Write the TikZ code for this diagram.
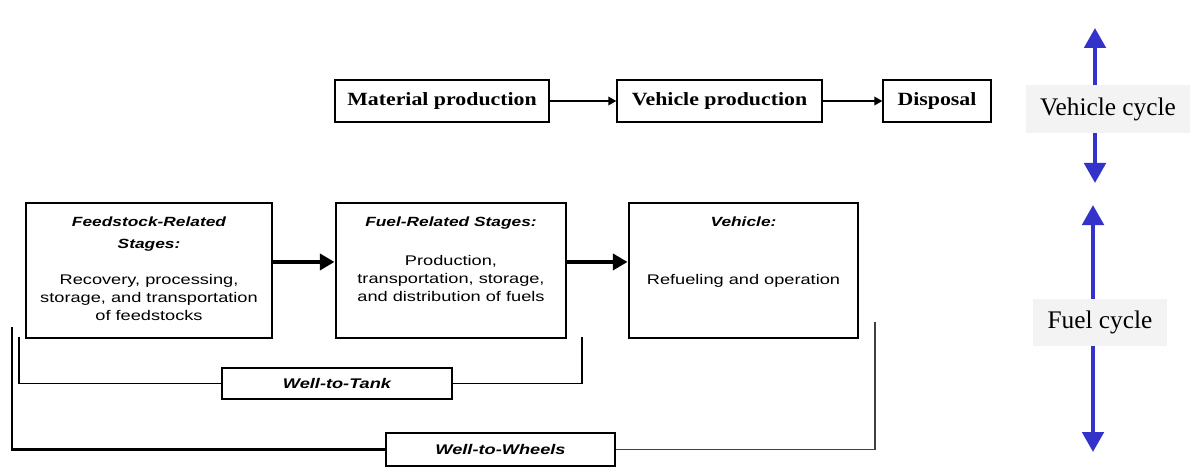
\documentclass[tikz,border=0pt]{standalone}
\usepackage{fontspec}
\setmainfont{Liberation Serif}
\newfontfamily\stagefont[FakeStretch=1.3]{Liberation Sans}
\newfontfamily\topfont[FakeStretch=1.17]{Liberation Serif}
\usetikzlibrary{arrows.meta}
\definecolor{cycleblue}{RGB}{51,51,204}
\definecolor{cyclebg}{RGB}{243,243,243}
\newcommand{\stagehead}[1]{{\fontsize{10}{13.5}\selectfont\bfseries\itshape #1}}

\begin{document}
\begin{tikzpicture}[x=0.75pt, y=-0.75pt,
    topbox/.style={draw, line width=1.1pt, minimum height=31.5pt, inner sep=0pt,
      font=\topfont\bfseries\fontsize{14}{16}\selectfont},
    stagebox/.style={draw, line width=2.2pt, minimum height=101.25pt, inner sep=0pt},
    stagetext/.style={anchor=north, align=center, inner sep=0pt,
      font=\stagefont\fontsize{10.5}{13.5}\selectfont},
    spanbox/.style={draw, line width=1.3pt, fill=white, inner sep=0pt,
      font=\stagefont\bfseries\itshape\fontsize{10.5}{12}\selectfont},
    cyclelabel/.style={fill=cyclebg, inner sep=0pt, font=\fontsize{19}{22}\selectfont},
    flowarrow/.style={line width=1.1pt, -{Triangle[length=6pt,width=6.5pt]}},
    stagearrow/.style={line width=3.2pt, -{Triangle[length=11pt,width=12pt]}},
    cyclearrow/.style={cycleblue, line width=3pt, -{Triangle[length=15pt,width=16pt]}}]
  \useasboundingbox (0,0) rectangle (1190,467);

  % Vehicle cycle row
  \node[topbox, minimum width=160.5pt] (mat) at (442,101) {Material production};
  \node[topbox, minimum width=153.75pt] (vprod) at (719.5,101) {Vehicle production};
  \node[topbox, minimum width=81pt] (disp) at (937,101) {Disposal};
  \draw[flowarrow] (mat) -- (vprod);
  \draw[flowarrow] (vprod) -- (disp);

  % Fuel cycle stages
  \node[stagebox, minimum width=184.5pt] (feed) at (149,270.5) {};
  \node[stagebox, minimum width=172.5pt] (fuel) at (451,270.5) {};
  \node[stagebox, minimum width=171.75pt] (veh) at (743.5,270.5) {};
  \node[stagetext] (feedtxt) at ([yshift=-11.5pt]feed.north)
    {\stagehead{Feedstock-Related}\\[3pt]\stagehead{Stages:}\\[13.5pt]
     Recovery, processing,\\ storage, and transportation\\ of feedstocks};
  \node[stagetext] (fueltxt) at ([yshift=-11.5pt]fuel.north)
    {\stagehead{Fuel-Related Stages:}\\[15.75pt]
     Production,\\ transportation, storage,\\ and distribution of fuels};
  \node[stagetext] (vehtxt) at ([yshift=-11.5pt]veh.north)
    {\stagehead{Vehicle:}\\[30pt] Refueling and operation};
  \draw[stagearrow] ([yshift=6.4pt]feed.east) -- ([yshift=6.4pt]fuel.west);
  \draw[stagearrow] ([yshift=6.4pt]fuel.east) -- ([yshift=6.4pt]veh.west);

  % Well-to-Tank and Well-to-Wheels spans
  \node[spanbox, minimum width=172.5pt, minimum height=23.25pt] (wtt) at (337,383.5) {Well-to-Tank};
  \node[spanbox, minimum width=171.75pt, minimum height=24.75pt] (wtw) at (500.5,449.5) {Well-to-Wheels};
  \coordinate (wttl) at (19,337);
  \coordinate (wttr) at (582,337);
  \coordinate (wtwl) at (12,327);
  \coordinate (wtwr) at (875,322);
  \draw[line width=1.3pt] (wttl) |- (wtt.west);
  \draw[line width=1.3pt] (wtt.east) -| (wttr);
  \draw[line width=2pt] (wtwl) |- (wtw.west);
  \draw[black!75, line width=1.3pt] (wtw.east) -| (wtwr);

  % Cycle labels
  \node[cyclelabel, minimum width=123pt, minimum height=36pt] (vcyc) at (1108,109) {\raisebox{-2pt}{Vehicle cycle}};
  \node[cyclelabel, minimum width=100.5pt, minimum height=35.25pt] (fcyc) at (1100,322.5) {\raisebox{-1pt}{Fuel cycle}};
  \coordinate (vtop) at (1095,28);
  \coordinate (vbot) at (1095,183);
  \coordinate (ftop) at (1093,205);
  \coordinate (fbot) at (1093,452);
  \draw[cyclearrow] (vcyc.north -| vtop) -- (vtop);
  \draw[cyclearrow] (vcyc.south -| vbot) -- (vbot);
  \draw[cyclearrow] (fcyc.north -| ftop) -- (ftop);
  \draw[cyclearrow] (fcyc.south -| fbot) -- (fbot);
\end{tikzpicture}
\end{document}
